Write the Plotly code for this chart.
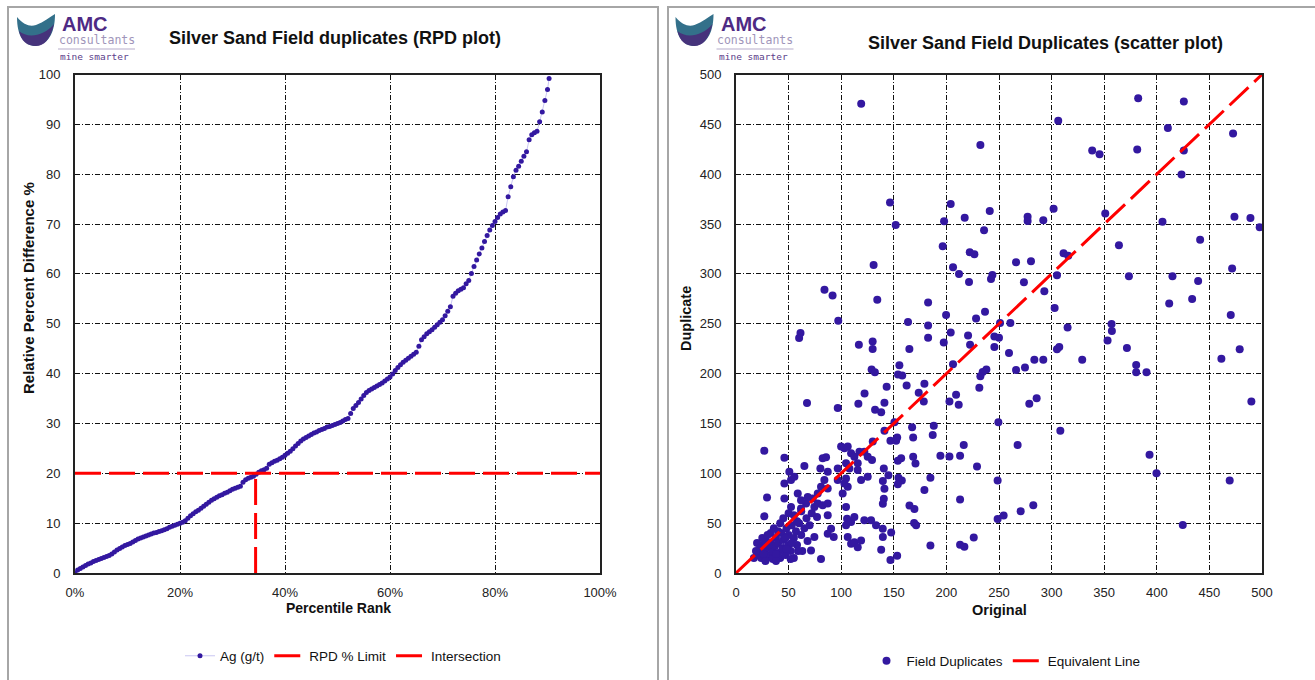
import plotly.graph_objects as go

# ---------------- DATA ----------------
# Left chart: RPD (%) of Ag field duplicates vs percentile rank (%)
pct_rank = [0, 0.5, 1, 1.5, 2, 2.5, 3, 3.5, 4, 4.5, 5, 5.5, 6, 6.5, 7, 7.5, 8, 8.5, 9, 9.5,
            10, 10.5, 11, 11.5, 12, 12.5, 13, 13.5, 14, 14.5, 15, 15.5, 16, 16.5, 17, 17.5, 18, 18.5, 19, 19.5,
            20, 20.5, 21, 21.5, 22, 22.5, 23, 23.5, 24, 24.5, 25, 25.5, 26, 26.5, 27, 27.5, 28, 28.5, 29, 29.5,
            30, 30.5, 31, 31.5, 32, 32.5, 33, 33.5, 34, 34.5, 35, 35.5, 36, 36.5, 37, 37.5, 38, 38.5, 39, 39.5,
            40, 40.5, 41, 41.5, 42, 42.5, 43, 43.5, 44, 44.5, 45, 45.5, 46, 46.5, 47, 47.5, 48, 48.5, 49, 49.5,
            50, 50.5, 51, 51.5, 52, 52.5, 53, 53.5, 54, 54.5, 55, 55.5, 56, 56.5, 57, 57.5, 58, 58.5, 59, 59.5,
            60, 60.5, 61, 61.5, 62, 62.5, 63, 63.5, 64, 64.5, 65, 65.5, 66, 66.5, 67, 67.5, 68, 68.5, 69, 69.5,
            70, 70.5, 71, 71.5, 72, 72.5, 73, 73.5, 74, 74.5, 75, 75.5, 76, 76.5, 77, 77.5, 78, 78.5, 79, 79.5,
            80, 80.5, 81, 81.5, 82, 82.5, 83, 83.5, 84, 84.5, 85, 85.5, 86, 86.5, 87, 87.5, 88, 88.5, 89, 89.5,
            90, 90.3]
rpd_ag = [0, 0.6, 0.9, 1.2, 1.5, 1.8, 2.0, 2.3, 2.5, 2.7, 2.9, 3.1, 3.3, 3.5, 3.8, 4.2, 4.6, 4.9, 5.2, 5.5,
          5.7, 5.9, 6.2, 6.5, 6.8, 7.0, 7.2, 7.4, 7.6, 7.8, 8.0, 8.1, 8.3, 8.5, 8.7, 8.9, 9.2, 9.4, 9.6, 9.8,
          10.0, 10.2, 10.5, 11.0, 11.5, 11.9, 12.3, 12.6, 13.0, 13.4, 13.8, 14.2, 14.6, 14.9, 15.2, 15.5, 15.7, 16.0, 16.2, 16.5,
          16.8, 17.0, 17.2, 17.4, 18.2, 18.7, 19.0, 19.2, 19.4, 19.8, 20.2, 20.5, 20.7, 21.0, 21.8, 22.1, 22.4, 22.6, 22.9, 23.2,
          23.6, 24.0, 24.4, 24.9, 25.5, 26.0, 26.5, 26.9, 27.2, 27.5, 27.8, 28.1, 28.3, 28.6, 28.8, 29.0, 29.3, 29.4, 29.6, 29.8,
          30.0, 30.2, 30.5, 30.8, 31.0, 32.0, 33.0, 33.6, 34.2, 34.9, 35.6, 36.2, 36.6, 36.9, 37.2, 37.5, 37.8, 38.1, 38.5, 38.9,
          39.3, 39.9, 40.6, 41.2, 41.8, 42.3, 42.7, 43.1, 43.5, 43.9, 44.3, 45.5, 46.8, 47.4, 48.0, 48.4, 48.8, 49.3, 49.8, 50.3,
          50.8, 51.6, 52.5, 53.4, 55.5, 56.1, 56.6, 56.9, 57.2, 58.0, 58.7, 60.1, 61.5, 62.8, 64.0, 65.2, 66.5, 67.7, 68.8, 69.7,
          70.5, 71.3, 72.0, 72.4, 72.7, 75.5, 77.5, 79.5, 80.8, 81.6, 82.6, 83.6, 84.5, 86.9, 87.9, 88.3, 88.6, 90.5, 92.5, 94.8,
          97.0, 99.2]
rpd_limit = 20
intersection_pct = 34.4

# Right chart: original vs duplicate Ag (g/t)
original = [
    119, 146.4, 151.8, 130.8, 84.1, 91.8, 134.3, 97.2, 163.5, 61.3, 60, 116.8, 129.9, 129.9, 164.8,
    128.9, 132, 155.3, 154, 158, 143.2, 162.2, 122.2,
    382.3, 425.7, 306.3, 410.5, 472.5, 232.3, 338.6, 345.6, 381.4, 425.7, 423.5, 204.1, 197.8, 217.4,
    241.2, 235.8, 277.2, 277.2, 292.1, 301.9, 351, 405.4, 473.8, 489, 497.8, 441.2, 196.5, 222.2,
    226.6, 364, 311.4, 315.8, 266.2, 280.4, 206.3, 212, 221.5, 243.7, 242.4, 273.7, 305.1, 293.1,
    373.5, 414.9, 439.3, 471.6, 411.8, 433.6, 470.3, 182.6, 199.7, 182.6, 182.6, 204.1, 197.5,
    220.6, 222.5, 228.2, 236.7, 251, 260.8, 245.6, 250, 245.6, 259.5, 302.9, 315.2, 307.3, 305.1,
    357, 357.3, 353.2, 371.6, 478.8, 461.4, 206.3, 266.2, 274.7, 283.6, 292.1, 329.1, 380.4, 380.4,
    390.2, 238, 234.5, 232.3, 179.1, 231.3,
    173.7, 178.5, 202.9, 209.2, 211.7, 278.8, 285.8, 489.9, 141.1, 138, 141.1, 150.6, 167.4, 188,
    187, 168.4, 146.8, 152.2, 153.2, 249.4, 308.3, 216.5, 267.7, 194.3, 202.9, 213, 168.4, 170.6,
    153.8, 157, 393.1, 229.1, 140.5, 144.9, 154.4, 157.6, 153.8, 184.8, 248.7, 399.7, 469.3, 139.6,
    141.1, 140.5, 139.6, 179.1, 213, 164.9, 169.6, 169.3, 171.2, 248.7, 254.4, 270.6, 282.6, 424.7,
    147.5, 139.6, 138, 146.8, 153.2, 184.8, 213, 217.1, 226,
    67.5, 96.7, 116.3, 132.2, 130, 26.9, 46, 50.7, 52.3, 46, 55.5, 65, 29.5, 26.9, 46, 52.3, 80.2,
    82.4, 85.6, 87.2, 84, 80.8, 87.2, 96.7, 99.9, 103, 106.2, 109.4, 112.5, 104.6, 107.8, 115.7,
    117.3, 122, 125.2, 129.3, 115.7, 118.9, 125.2, 104.6, 106.2, 101.4, 103, 96.7, 77.7, 72.9, 66.6,
    68.2, 61.8, 58.7, 61.8, 74.5, 77.7, 82.4, 87.2, 77, 87.2, 90.4, 92.9, 104.6, 105.6, 109.4, 112.5,
    122, 128.4, 133.1, 139.5, 104.6, 106.2, 109.4, 112.5, 115.7, 118.9, 80.8, 71.3, 74.5, 87.2,
    17, 20, 22, 24, 25, 27, 28, 30, 30, 32, 33, 35, 35, 37, 38, 40, 40, 42, 43, 45, 45, 47, 48, 50,
    50, 52, 53, 55, 55, 57, 58, 60, 62, 63, 65, 67, 68, 70, 72, 25, 20, 28, 33, 38, 45, 50, 55, 42,
    36, 30, 23, 19, 58, 62, 40, 47, 53, 26, 31, 44, 38, 48, 52, 59]
duplicate = [
    470.7, 371.7, 349, 309, 284, 278.3, 274, 253, 251.7, 240.7, 235.7, 229, 232.3, 224.7, 224.7,
    204, 201.3, 208.3, 199, 198, 186.7, 188, 180,
    476.3, 473, 453.7, 446.3, 440.7, 429.3, 423.7, 420, 424.7, 423.7, 399.7, 370, 352.7, 356.3,
    363, 343.7, 357.3, 353, 353.7, 365.3, 360.7, 352.3, 357.3, 356, 346.7, 334.3, 327.7, 321.7,
    319.7, 328.7, 320.7, 318.3, 311.7, 312.7, 306.7, 300, 292, 299, 295, 291.7, 298.7, 282.7,
    297.7, 297.7, 293, 305.3, 270.3, 274.7, 258.7, 271.3, 258.7, 248.3, 236, 241.3, 231.3,
    238.3, 229, 255.3, 262, 250.7, 250.7, 237.3, 236, 226.7, 220.7, 265.7, 246.3, 226.7, 224.3,
    249.7, 242.7, 233.3, 225.7, 224.3, 215, 209.3, 203.7, 206, 214, 214, 214, 208.7, 201.3,
    201.3, 204, 201.7, 197.3, 189.7, 185.7,
    180.8, 172, 172, 178.8, 168.7, 169.7, 175.4, 172, 170.7, 161.3, 142.8, 151.2, 146.1, 147.8,
    138.4, 136, 132.7, 132.7, 136, 151.2, 142.8, 128.3, 128.3, 117.5, 116.8, 117.5, 116.5, 109.8,
    112.5, 115.2, 118.5, 106.7, 104.7, 98, 95.6, 92.9, 88.9, 95.6, 92.9, 100, 92.9, 92.3,
    84.5, 74.4, 69.4, 83.2, 73.7, 67.7, 64.3, 50.2, 47.8, 54.2, 57.6, 62, 68, 48.2,
    40.7, 36, 23.2, 13.1, 17.2, 27.6, 28.3, 26.3, 35.7,
    170.5, 165.5, 169.8, 163.8, 131.8, 122.7, 115.7, 101.6, 93.2, 89.8, 96.5, 107.3, 75.7, 56.8, 74.7, 66.3, 104.9,
    115, 116, 101.6, 93.2, 86.4, 84.7, 104.9, 126.8, 125.1, 126.8, 120, 116.7, 110, 104.9, 110,
    121.7, 121.7, 116.7, 113.3, 103.2, 93.2, 96.5, 94.8, 86.4, 79.7, 89.8, 93.2, 79.7, 74.7, 69.6,
    76.3, 73, 79.7, 64.6, 66.3, 69.6, 67.9, 69.6, 56.2, 57.8, 44.4, 36, 66.3, 54.5, 51.1, 56.2,
    52.8, 52.8, 47.8, 44.4, 47.8, 36, 29.3, 30.9, 25.9, 32.6, 14.1, 22.5, 36, 39.3,
    15, 18, 22, 15, 28, 20, 33, 25, 16, 18, 30, 22, 14, 27, 35, 20, 30, 15, 40, 25, 33, 18, 45, 28,
    38, 22, 48, 35, 15, 42, 28, 50, 38, 22, 45, 55, 32, 48, 60, 35, 30, 12, 40, 12, 55, 60, 58, 50,
    45, 38, 25, 22, 52, 62, 42, 35, 30, 19, 28, 24, 19, 24, 14, 22]
equiv_line = [0, 500]

# ---------------- FIGURE ----------------
W, H = 1315, 680
def px(x):
    return x / W
def py(y):
    return 1 - y / H

FONT = "Liberation Sans, Arial, sans-serif"
DOT = "#3318A0"
RED = "#FF0000"

fig = go.Figure()

fig.add_trace(go.Scatter(
    x=pct_rank, y=rpd_ag, mode="lines+markers", name="Ag (g/t)",
    line=dict(color="#C9C6F2", width=1), marker=dict(color=DOT, size=5),
    xaxis="x", yaxis="y", legend="legend"))
fig.add_trace(go.Scatter(
    x=[0, 100], y=[rpd_limit, rpd_limit], mode="lines", name="RPD % Limit",
    line=dict(color=RED, width=3, dash="26px,8px"),
    xaxis="x", yaxis="y", legend="legend"))
fig.add_trace(go.Scatter(
    x=[intersection_pct, intersection_pct], y=[0, rpd_limit], mode="lines", name="Intersection",
    line=dict(color=RED, width=3, dash="26px,8px"),
    xaxis="x", yaxis="y", legend="legend"))

fig.add_trace(go.Scatter(
    x=original, y=duplicate, mode="markers", name="Field Duplicates",
    marker=dict(color=DOT, size=8, line=dict(width=0)),
    xaxis="x2", yaxis="y2", legend="legend2"))
fig.add_trace(go.Scatter(
    x=equiv_line, y=equiv_line, mode="lines", name="Equivalent Line",
    line=dict(color=RED, width=3, dash="26px,8px"),
    xaxis="x2", yaxis="y2", legend="legend2"))

axis_common = dict(
    showgrid=True, gridcolor="#111", gridwidth=1, griddash="5px,2px,1px,2px",
    zeroline=False, showline=True, linecolor="#222", linewidth=2, mirror=True,
    automargin=False,
    ticks="", tickfont=dict(family=FONT, size=13, color="#222"), fixedrange=True)

ydom = [py(573), py(74.5)]
fig.update_layout(
    width=W, height=H, margin=dict(l=0, r=0, t=0, b=0, autoexpand=False),
    paper_bgcolor="white", plot_bgcolor="white", showlegend=True,
    xaxis=dict(domain=[px(75), px(600)], range=[0, 100], dtick=20, ticksuffix="%",
               anchor="y", ticklabelstandoff=6, **axis_common),
    yaxis=dict(domain=ydom, range=[0, 100], dtick=10, anchor="x",
               ticklabelstandoff=10, **axis_common),
    xaxis2=dict(domain=[px(736), px(1262)], range=[0, 500], dtick=50,
                anchor="y2", ticklabelstandoff=6, **axis_common),
    yaxis2=dict(domain=ydom, range=[0, 500], dtick=50, anchor="x2",
                ticklabelstandoff=10, **axis_common),
    legend=dict(orientation="h", x=px(343), y=py(656), xanchor="center", yanchor="middle",
                font=dict(family=FONT, size=13.5, color="#111"), bgcolor="rgba(0,0,0,0)",
                itemwidth=30, tracegroupgap=0),
    legend2=dict(orientation="h", x=px(1006), y=py(661), xanchor="center", yanchor="middle",
                 font=dict(family=FONT, size=13.5, color="#111"), bgcolor="rgba(0,0,0,0)",
                 itemwidth=30),
)

ann = []
def text(x, y, s, size, bold=False, color="#111", xanchor="center", family=FONT, angle=0):
    ann.append(dict(x=px(x), y=py(y), xref="paper", yref="paper", text=f"<b>{s}</b>" if bold else s,
                    showarrow=False, xanchor=xanchor, yanchor="middle", textangle=angle,
                    font=dict(family=family, size=size, color=color)))

# titles
text(335, 38, "Silver Sand Field duplicates (RPD plot)", 18, bold=True)
text(1045, 43, "Silver Sand Field Duplicates (scatter plot)", 18, bold=True)
# axis titles
text(338, 608, "Percentile Rank", 14, bold=True)
text(28, 288, "Relative Percent Difference %", 15, bold=True, angle=-90)
text(999, 610, "Original", 14.5, bold=True)
text(686, 318, "Duplicate", 14.5, bold=True, angle=-90)

shapes = []
# panel borders
for x0, x1 in [(8, 658), (668, 1330)]:
    shapes.append(dict(type="rect", xref="paper", yref="paper", x0=px(x0), x1=px(x1),
                       y0=py(700), y1=py(7), line=dict(color="#A6A6A6", width=2),
                       fillcolor="rgba(0,0,0,0)", layer="below"))

# AMC logos
def path(pts, off):
    s = ""
    for cmd, coords in pts:
        s += cmd
        s += " ".join(f"{px(c[0] + off):.5f},{py(c[1]):.5f}" for c in coords) + " "
    return s + "Z"

for off in (0, 658.5):
    wing = [("M", [(17, 17)]), ("C", [(24, 25), (30, 27), (36, 25)]),
            ("C", [(44, 22), (50, 17), (55, 14)]), ("C", [(55, 30), (50, 44), (36, 46)]),
            ("C", [(24, 46), (17, 36), (17, 17)])]
    low = [("M", [(19, 31)]), ("C", [(28, 39), (44, 36), (54, 24)]),
           ("C", [(50, 40), (44, 46), (36, 46)]), ("C", [(27, 46), (21, 41), (19, 31)])]
    shapes.append(dict(type="path", xref="paper", yref="paper", path=path(wing, off),
                       fillcolor="#33708A", line=dict(width=0)))
    shapes.append(dict(type="path", xref="paper", yref="paper", path=path(low, off),
                       fillcolor="#4A2878", opacity=0.85, line=dict(width=0)))
    shapes.append(dict(type="line", xref="paper", yref="paper", x0=px(58 + off), x1=px(135 + off),
                       y0=py(49), y1=py(49), line=dict(color="#B7ADCB", width=1)))
    text(60 + off, 24, "AMC", 20, bold=True, color="#4E2A84", xanchor="left")
    text(57 + off, 40, "consultants", 11.5, color="#A095BA", xanchor="left", family="DejaVu Sans Mono")
    text(58 + off, 56, "mine smarter", 9.5, color="#5B3D8A", xanchor="left", family="DejaVu Sans Mono")

fig.update_layout(annotations=ann, shapes=shapes)
fig.write_html("out.html", post_script="document.body.style.margin='0';")
